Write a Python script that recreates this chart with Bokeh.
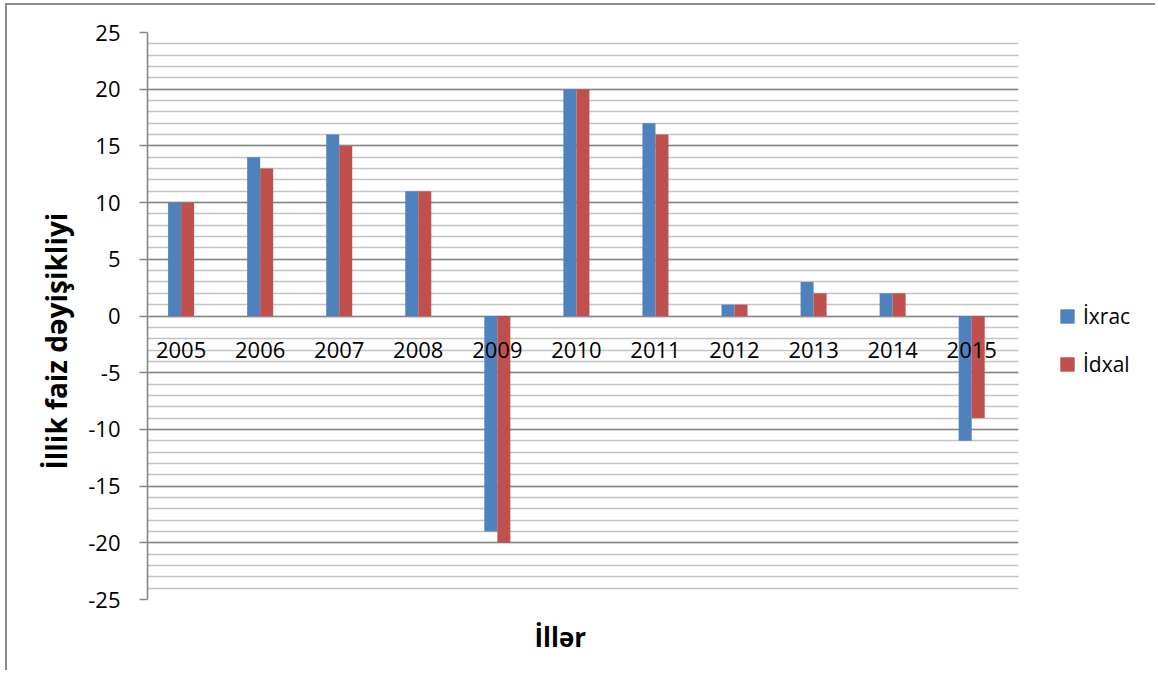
from bokeh.plotting import figure
from bokeh.models import (ColumnDataSource, Range1d, SingleIntervalTicker, Legend, LegendItem, Title,
                          PrintfTickFormatter, BoxAnnotation)
from bokeh.transform import dodge
from bokeh.core.properties import value
from bokeh.embed import file_html
from bokeh.resources import INLINE

years = [2005, 2006, 2007, 2008, 2009, 2010, 2011, 2012, 2013, 2014, 2015]
ixrac = [10, 14, 16, 11, -19, 20, 17, 1, 3, 2, -11]
idxal = [10, 13, 15, 11, -20, 20, 16, 1, 2, 2, -9]
year_labels = [str(y) for y in years]
series_names = ["İxrac", "İdxal"]
colors = ["#4F81BD", "#C0504D"]

FONT = "Open Sans"

src = ColumnDataSource(dict(year=years, ixrac=ixrac, idxal=idxal, lab=year_labels, zero=[0] * len(years)))

# frame extends to the right canvas edge; area past the last category is blanked for the legend
p = figure(width=1150, height=667, output_backend="svg", toolbar_location=None,
           x_range=Range1d(2004.575, 2017.35), y_range=Range1d(-25, 25),
           min_border_left=140, min_border_right=0, min_border_top=27, min_border_bottom=73)
p.outline_line_color = None
p.background_fill_color = "white"
p.border_fill_color = "white"
p.styles = {"border-left": "2px solid #8c8c8c", "border-top": "2px solid #8c8c8c",
            "margin-left": "5px", "margin-top": "3px"}

# grids
p.xgrid.visible = False
p.ygrid.ticker = SingleIntervalTicker(interval=5, num_minor_ticks=5)
p.ygrid.grid_line_color = "#878787"
p.ygrid.grid_line_width = 1.6
p.ygrid.minor_grid_line_color = "#C3C3C3"
p.ygrid.minor_grid_line_width = 1.6

# y axis
p.yaxis.ticker = SingleIntervalTicker(interval=5, num_minor_ticks=5)
p.yaxis.formatter = PrintfTickFormatter(format="%d")
p.yaxis.axis_line_color = "#878787"
p.yaxis.axis_line_width = 1.6
p.yaxis.major_tick_line_color = "#878787"
p.yaxis.major_tick_line_width = 1.6
p.yaxis.major_tick_out = 8
p.yaxis.major_tick_in = 0
p.yaxis.minor_tick_line_color = None
p.yaxis.major_label_text_font = FONT
p.yaxis.major_label_text_font_size = "22px"
p.yaxis.major_label_text_color = "black"
p.yaxis.major_label_standoff = 19

p.xaxis.visible = False

p.add_layout(BoxAnnotation(left=2015.59, fill_color="white", fill_alpha=1.0, line_color=None, level="glyph"))

w = 0.1645
r1 = p.vbar(x=dodge("year", -w / 2, range=p.x_range), top="ixrac", width=w, source=src,
            fill_color=colors[0], line_color=None)
r2 = p.vbar(x=dodge("year", w / 2, range=p.x_range), top="idxal", width=w, source=src,
            fill_color=colors[1], line_color=None)

p.text(x="year", y="zero", text="lab", source=src, text_font=value(FONT), text_font_size="22px",
       text_align="center", text_baseline="middle", y_offset=34, text_color="black")

ytitle = Title(text="İllik faiz dəyişikliyi", align="left", offset=130, standoff=21,
               text_font=FONT, text_font_style="bold", text_font_size="28px", text_color="black")
p.add_layout(ytitle, "left")
xtitle = Title(text="İllər", align="left", offset=387, standoff=35,
               text_font=FONT, text_font_style="bold", text_font_size="26px", text_color="black")
p.add_layout(xtitle, "below")

legend = Legend(items=[LegendItem(label=series_names[0], renderers=[r1]),
                       LegendItem(label=series_names[1], renderers=[r2])],
                location=(911, 221), orientation="vertical",
                label_text_font=FONT, label_text_font_size="21px", label_text_color="black",
                glyph_width=18, glyph_height=18, label_standoff=7, spacing=20,
                padding=0, margin=0, border_line_color=None, background_fill_alpha=0,
                label_height=26)
p.add_layout(legend, "center")

open("out.html", "w").write(file_html(p, INLINE))
